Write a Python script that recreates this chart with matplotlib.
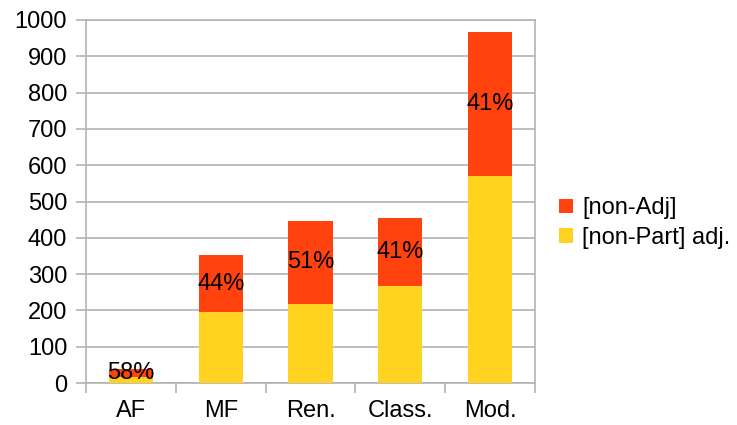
import numpy as np
import matplotlib.pyplot as plt

plt.rcParams['font.family'] = ['Liberation Sans', 'DejaVu Sans']

# corpus sections and counts per category
sections = ["AF", "MF", "Ren.", "Class.", "Mod."]
non_part_adj = [16, 196, 218, 267, 571]
non_adj = [22, 156, 229, 188, 396]

red = "#ff420e"
yellow = "#ffd320"
grey = "#b3b3b3"
fs = 17

fig = plt.figure(figsize=(7.37, 4.25), dpi=100)
ax = fig.add_axes([86 / 737, 1 - 383 / 425, (535 - 86) / 737, (383 - 20) / 425])

x = np.arange(len(sections))
w = 0.49
ax.bar(x, non_part_adj, w, color=yellow, label="[non-Part] adj.", zorder=3)
ax.bar(x, non_adj, w, bottom=non_part_adj, color=red, label="[non-Adj]", zorder=3)

# share of [non-Adj] in each bar, placed in the middle of the top segment
for xi, b, t in zip(x, non_part_adj, non_adj):
    pct = round(100 * t / (b + t))
    ax.text(xi, b + t / 2, f"{pct}%", ha="center", va="center", fontsize=fs, zorder=4)

ax.set_xlim(-0.5, len(sections) - 0.5)
ax.set_ylim(0, 1000)
ax.set_yticks(range(0, 1001, 100))
ax.set_xticks(x)
ax.set_xticklabels(sections)
ax.set_xticks(np.arange(-0.5, len(sections), 1), minor=True)
ax.tick_params(axis="x", which="major", length=0, pad=12.5, labelsize=fs)
ax.tick_params(axis="x", which="minor", length=7, color=grey, width=1.2)
ax.tick_params(axis="y", length=7, color=grey, width=1.2, labelsize=fs, pad=6.5)
ax.yaxis.grid(True, color=grey, linewidth=1.2, zorder=0)
for s in ax.spines.values():
    s.set_color(grey)
    s.set_linewidth(1.2)

h, l = ax.get_legend_handles_labels()
fig.legend(h[::-1], l[::-1], loc="center left", bbox_to_anchor=(547 / 737, 1 - 223 / 425),
           frameon=False, fontsize=fs, handlelength=0.58, handleheight=0.58,
           handletextpad=0.4, labelspacing=0.3, borderpad=0)

fig.savefig("out.png", dpi=100)
